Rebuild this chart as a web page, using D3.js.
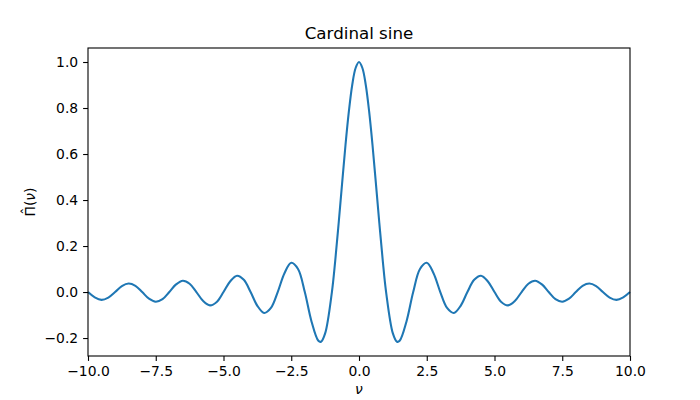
<!DOCTYPE html>
<html>
<head>
<meta charset="utf-8">
<script src="https://cdn.jsdelivr.net/npm/d3@7"></script>
<style>
  body { margin: 0; background: #fff; }
  text { font-family: "DejaVu Sans", sans-serif; }
</style>
</head>
<body>
<svg id="chart" width="700" height="400"></svg>
<script>
// sample positions (nu) and values
const NU = [
  -10, -9.75, -9.5, -9.25, -9, -8.75, -8.5, -8.25, -8, -7.75, -7.5, -7.25, -7,
  -6.75, -6.5, -6.25, -6, -5.75, -5.5, -5.25, -5, -4.75, -4.5, -4.25, -4,
  -3.75, -3.5, -3.25, -3, -2.75, -2.5, -2.25, -2, -1.75, -1.5, -1.4, -1.25, -1,
  -0.875, -0.75, -0.625, -0.5, -0.375, -0.25, -0.125, 0, 0.125, 0.25, 0.375, 0.5,
  0.625, 0.75, 0.875, 1, 1.25, 1.4, 1.5, 1.75, 2, 2.25, 2.5,
  2.75, 3, 3.25, 3.5, 3.75, 4, 4.25, 4.5, 4.75, 5, 5.25, 5.5, 5.75, 6, 6.25,
  6.5, 6.75, 7, 7.25, 7.5, 7.75, 8, 8.25, 8.5, 8.75, 9, 9.25, 9.5, 9.75, 10
];
const PI_HAT = [
  0, -0.023, -0.034, -0.024, 0, 0.026, 0.037, 0.027, 0, -0.029, -0.042, -0.031, 0,
  0.033, 0.049, 0.036, 0, -0.039, -0.058, -0.043, 0, 0.047, 0.071, 0.053, 0,
  -0.06, -0.091, -0.069, 0, 0.082, 0.127, 0.1, 0, -0.129, -0.212, -0.216, -0.18, 0,
  0.139, 0.3, 0.47, 0.637, 0.784, 0.9, 0.974, 1, 0.974, 0.9, 0.784, 0.637,
  0.47, 0.3, 0.139, 0, -0.18, -0.216, -0.212, -0.129, 0, 0.1, 0.127,
  0.082, 0, -0.069, -0.091, -0.06, 0, 0.053, 0.071, 0.047, 0, -0.043, -0.058, -0.039, 0, 0.036,
  0.049, 0.033, 0, -0.031, -0.042, -0.029, 0, 0.027, 0.037, 0.026, 0, -0.024, -0.034, -0.023, 0
];
const X_TICKS = [-10, -7.5, -5, -2.5, 0, 2.5, 5, 7.5, 10];
const Y_TICKS = [-0.2, 0, 0.2, 0.4, 0.6, 0.8, 1.0];

const width = 700;
const height = 400;
const margin = { top: 48, right: 70, bottom: 44, left: 88 };
const color = "#1f77b4";

const x = d3
  .scaleLinear()
  .domain([-10, 10])
  .range([margin.left, width - margin.right]);
const y = d3
  .scaleLinear()
  .domain([-0.2781, 1.0609])
  .range([height - margin.bottom, margin.top]);

const fmt = (d) => d.toFixed(1).replace("-", "\u2212");

const svg = d3.select("#chart");

const line = d3
  .line()
  .x((d, i) => x(NU[i]))
  .y((d) => y(d))
  .curve(d3.curveCatmullRom.alpha(0.5));

svg
  .append("path")
  .datum(PI_HAT)
  .attr("fill", "none")
  .attr("stroke", color)
  .attr("stroke-width", 2.08)
  .attr("stroke-linejoin", "round")
  .attr("d", line);

const xAxis = (g) =>
  g
    .attr("transform", `translate(0,${height - margin.bottom})`)
    .call(d3.axisBottom(x).tickValues(X_TICKS).tickFormat(fmt).tickSize(4.9).tickPadding(4.9).tickSizeOuter(0))
    .call((g) => g.select(".domain").remove())
    .call((g) => g.selectAll("line").attr("stroke-width", 1.1))
    .call((g) => g.selectAll("text").attr("font-size", 13.9).attr("fill", "#000").attr("font-family", "DejaVu Sans"));
const yAxis = (g) =>
  g
    .attr("transform", `translate(${margin.left},0)`)
    .call(d3.axisLeft(y).tickValues(Y_TICKS).tickFormat(fmt).tickSize(4.9).tickPadding(4.9).tickSizeOuter(0))
    .call((g) => g.select(".domain").remove())
    .call((g) => g.selectAll("line").attr("stroke-width", 1.1))
    .call((g) => g.selectAll("text").attr("font-size", 13.9).attr("fill", "#000").attr("font-family", "DejaVu Sans"));

svg.append("g").call(xAxis);
svg.append("g").call(yAxis);

// frame
svg
  .append("rect")
  .attr("x", margin.left)
  .attr("y", margin.top)
  .attr("width", width - margin.left - margin.right)
  .attr("height", height - margin.top - margin.bottom)
  .attr("fill", "none")
  .attr("stroke", "#000")
  .attr("stroke-width", 1.1);

const cx = (margin.left + width - margin.right) / 2;
svg
  .append("text")
  .attr("x", cx)
  .attr("y", 39)
  .attr("text-anchor", "middle")
  .attr("font-size", 16.7)
  .text("Cardinal sine");

svg
  .append("text")
  .attr("x", cx)
  .attr("y", 394)
  .attr("text-anchor", "middle")
  .attr("font-size", 13.9)
  .attr("font-style", "italic")
  .text("\u03bd");

const yl = svg
  .append("text")
  .attr("transform", `translate(35,${(margin.top + height - margin.bottom) / 2}) rotate(-90)`)
  .attr("text-anchor", "middle")
  .attr("font-size", 13.9);
yl.append("tspan").text("\u03a0");
yl.append("tspan").attr("dx", -8.6).attr("dy", -3).text("\u02c6");
yl.append("tspan").attr("dx", 1.6).attr("dy", 3).text("(");
yl.append("tspan").attr("font-style", "italic").text("\u03bd");
yl.append("tspan").text(")");
</script>
</body>
</html>
